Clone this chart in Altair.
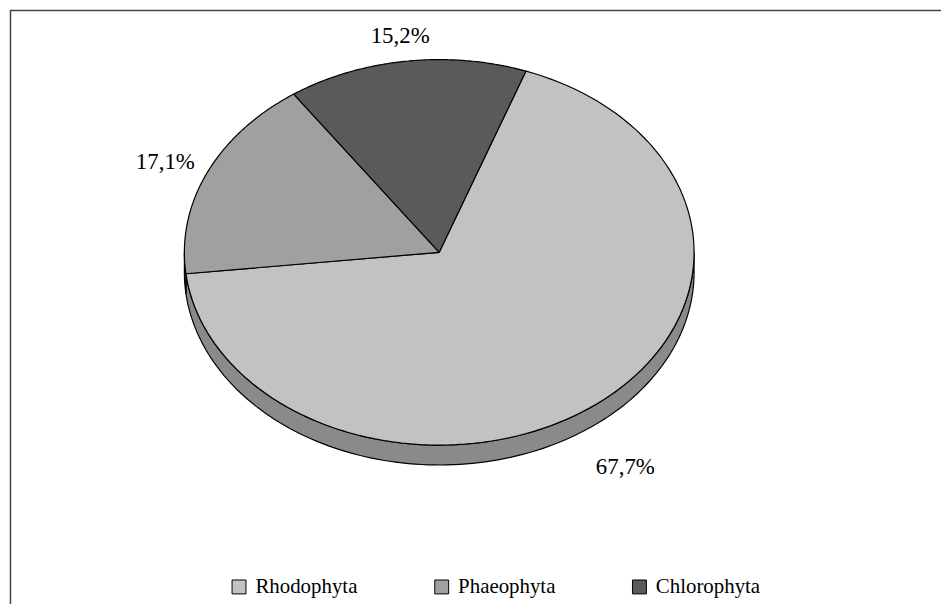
import math
import altair as alt
import pandas as pd

# ---- data ----
categories = ["Rhodophyta", "Phaeophyta", "Chlorophyta"]
shares = [67.7, 17.1, 15.2]

df = pd.DataFrame({"cat": categories, "share": shares, "ord": list(range(len(categories)))})

# ---- layout / style constants ----
W, H = 939, 598
CX, CY, A, B, D = 434.0, 244.0, 256.5, 194.0, 20.0   # ellipse centre, radii, depth (px)
START = 19.9 * math.pi / 180                          # first slice starts here (clockwise from top)
N = 120
top_colors = ["#c2c2c2", "#a0a0a0", "#5a5a5a"]
side_colors = ["#8a8a8a", "#6c6c6c", "#404040"]
FONT = "Liberation Serif"

xs = alt.Scale(domain=[0, W], nice=False, zero=False)
ys = alt.Scale(domain=[0, H], nice=False, zero=False, reverse=True)

base = (
    alt.Chart(df)
    .transform_window(cum="sum(share)", sort=[alt.SortField("ord")], frame=[None, 0])
    .transform_joinaggregate(total="sum(share)")
    .transform_calculate(
        a0=f"{START} + 2*PI*(datum.cum - datum.share)/datum.total",
        a1=f"{START} + 2*PI*datum.cum/datum.total",
    )
)

# side (3D depth) band, front half only
side = (
    base.transform_calculate(s0="max(datum.a0, PI/2)", s1="min(datum.a1, 3*PI/2)")
    .transform_filter("datum.s1 > datum.s0")
    .transform_calculate(i=f"sequence(0, {2 * N + 3})")
    .transform_flatten(["i"])
    .transform_calculate(
        bot=f"datum.i > {N} && datum.i <= {2 * N + 1}",
        fr=f"datum.i <= {N} ? datum.i/{N} : (datum.i <= {2 * N + 1} ? ({2 * N + 1} - datum.i)/{N} : 0)",
        ang="datum.s0 + datum.fr*(datum.s1 - datum.s0)",
        px=f"{CX} + {A}*sin(datum.ang)",
        py=f"{CY} - {B}*cos(datum.ang) + (datum.bot ? {D} : 0)",
    )
    .mark_line(stroke="black", strokeWidth=1.2, strokeJoin="round")
    .encode(
        x=alt.X("px:Q", scale=xs, axis=None),
        y=alt.Y("py:Q", scale=ys, axis=None),
        order=alt.Order("i:Q"),
        fill=alt.Fill("cat:N", scale=alt.Scale(domain=categories, range=side_colors), legend=None),
    )
)

# top face slices
top = (
    base.transform_calculate(i=f"sequence(0, {N + 3})")
    .transform_flatten(["i"])
    .transform_calculate(
        ctr=f"datum.i == 0 || datum.i == {N + 2}",
        ang=f"datum.a0 + (datum.i - 1)/{N}*(datum.a1 - datum.a0)",
        px=f"datum.ctr ? {CX} : {CX} + {A}*sin(datum.ang)",
        py=f"datum.ctr ? {CY} : {CY} - {B}*cos(datum.ang)",
    )
    .mark_line(stroke="black", strokeWidth=1.2, strokeJoin="round")
    .encode(
        x=alt.X("px:Q", scale=xs, axis=None),
        y=alt.Y("py:Q", scale=ys, axis=None),
        order=alt.Order("i:Q"),
        fill=alt.Fill(
            "cat:N",
            scale=alt.Scale(domain=categories, range=top_colors),
            legend=alt.Legend(
                title=None,
                orient="none",
                legendX=222,
                legendY=570,
                direction="horizontal",
                columnPadding=74,
                symbolType="square",
                symbolSize=196,
                symbolStrokeColor="black",
                symbolStrokeWidth=1,
                symbolOpacity=1,
                labelFont=FONT,
                labelFontSize=21,
                labelColor="black",
                labelOffset=6,
                padding=0,
            ),
        ),
    )
)

# percentage labels
labels = (
    base.transform_calculate(
        mid="(datum.a0 + datum.a1)/2",
        lx=f"{CX} + {A}*1.18*sin(datum.mid)",
        ly=f"{CY} - {B}*1.13*cos(datum.mid) + (cos(datum.mid) < 0 ? {2.2 * D} : 0)",
        txt="replace(format(datum.share, '.1f'), '.', ',') + '%'",
    )
    .mark_text(font=FONT, fontSize=23, color="black")
    .encode(
        x=alt.X("lx:Q", scale=xs, axis=None),
        y=alt.Y("ly:Q", scale=ys, axis=None),
        text="txt:N",
    )
)

dummy = alt.Chart(pd.DataFrame({"k": [0]}))
frame_top = dummy.mark_rule(color="#444", strokeWidth=1.5).encode(
    x=alt.value(2), x2=alt.value(W), y=alt.value(0.5)
)
frame_left = dummy.mark_rule(color="#444", strokeWidth=1.5).encode(
    x=alt.value(2.5), y=alt.value(0), y2=alt.value(H)
)

chart = (
    alt.layer(side, top, labels, frame_top, frame_left)
    .resolve_scale(fill="independent")
    .properties(width=W, height=H, padding=0, autosize="none", background="white")
    .configure_view(stroke=None)
)

chart.save("out.html", embed_options={"renderer": "svg", "actions": False})
